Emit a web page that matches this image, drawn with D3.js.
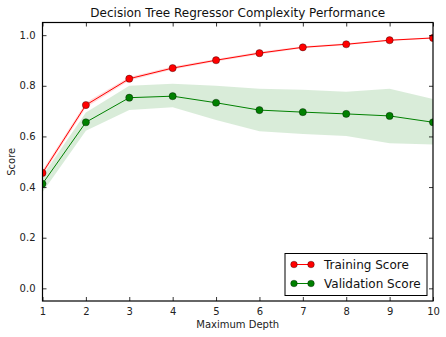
<!DOCTYPE html>
<html>
<head>
<meta charset="utf-8">
<script src="https://cdn.jsdelivr.net/npm/d3@7"></script>
<style>
  html, body { margin: 0; padding: 0; background: #fff; }
  svg { display: block; font-family: "DejaVu Sans", sans-serif; }
</style>
</head>
<body>
<svg id="chart" width="446" height="337"></svg>
<script>
// Decision tree regressor: score versus maximum depth
const depths = [1, 2, 3, 4, 5, 6, 7, 8, 9, 10];
const trainScore = [0.456, 0.724, 0.828, 0.870, 0.901, 0.929, 0.952, 0.964, 0.980, 0.989];
const trainStd = [0.010, 0.010, 0.007, 0.006, 0.005, 0.005, 0.004, 0.004, 0.003, 0.003];
const validScore = [0.413, 0.656, 0.753, 0.759, 0.733, 0.704, 0.696, 0.689, 0.681, 0.656];
const validUpper = [0.445, 0.695, 0.800, 0.808, 0.800, 0.788, 0.784, 0.776, 0.788, 0.748];
const validLower = [0.380, 0.622, 0.704, 0.715, 0.665, 0.620, 0.610, 0.602, 0.573, 0.568];
const xTicks = [1, 2, 3, 4, 5, 6, 7, 8, 9, 10];
const yTicks = [0.0, 0.2, 0.4, 0.6, 0.8, 1.0];
const seriesNames = ["Training Score", "Validation Score"];
const seriesColors = ["#ff0000", "#008000"];

const svg = d3.select("#chart");
const m = { left: 42.5, right: 433, top: 22.5, bottom: 301 };

const x = d3.scaleLinear().domain([1, 10]).range([m.left, m.right]);
const y = d3.scaleLinear().domain([-0.05, 1.05]).range([m.bottom, m.top]);

const plot = svg.append("g");

// clip to the axes box
svg.append("clipPath").attr("id", "clip")
  .append("rect").attr("x", m.left).attr("y", m.top)
  .attr("width", m.right - m.left).attr("height", m.bottom - m.top);

const content = plot.append("g").attr("clip-path", "url(#clip)");

const area = d3.area().x(d => x(d.x)).y0(d => y(d.lo)).y1(d => y(d.hi));
const line = d3.line().x(d => x(d.x)).y(d => y(d.y));

// shaded bands
content.append("path")
  .datum(depths.map((d, i) => ({ x: d, lo: trainScore[i] - trainStd[i], hi: trainScore[i] + trainStd[i] })))
  .attr("d", area).attr("fill", seriesColors[0]).attr("fill-opacity", 0.15);
content.append("path")
  .datum(depths.map((d, i) => ({ x: d, lo: validLower[i], hi: validUpper[i] })))
  .attr("d", area).attr("fill", seriesColors[1]).attr("fill-opacity", 0.15);

// lines and markers
[trainScore, validScore].forEach((vals, s) => {
  const pts = depths.map((d, i) => ({ x: d, y: vals[i] }));
  content.append("path").datum(pts).attr("d", line)
    .attr("fill", "none").attr("stroke", seriesColors[s]).attr("stroke-width", 1);
  content.selectAll(null).data(pts).enter().append("circle")
    .attr("cx", d => x(d.x)).attr("cy", d => y(d.y)).attr("r", 3.6)
    .attr("fill", seriesColors[s]).attr("stroke", "#000").attr("stroke-width", 0.5)
    .attr("stroke-opacity", 0.7);
});

// axes: ticks inside on all four sides
const tickLen = 4;
const axB = d3.axisBottom(x).tickValues(xTicks).tickSizeInner(-tickLen).tickSizeOuter(0).tickPadding(7).tickFormat(d3.format("d"));
const axT = d3.axisTop(x).tickValues(xTicks).tickSizeInner(-tickLen).tickSizeOuter(0).tickFormat("");
const axL = d3.axisLeft(y).tickValues(yTicks).tickSizeInner(-tickLen).tickSizeOuter(0).tickPadding(7).tickFormat(d3.format(".1f"));
const axR = d3.axisRight(y).tickValues(yTicks).tickSizeInner(-tickLen).tickSizeOuter(0).tickFormat("");

function style(g) {
  g.select(".domain").remove();
  g.selectAll(".tick line").attr("stroke", "#000").attr("stroke-width", 0.8);
  g.selectAll(".tick text").attr("fill", "#222").attr("font-size", 10).attr("font-family", "DejaVu Sans");
}
plot.append("g").attr("transform", `translate(0,${m.bottom})`).call(axB).call(style);
plot.append("g").attr("transform", `translate(0,${m.top})`).call(axT).call(style);
plot.append("g").attr("transform", `translate(${m.left},0)`).call(axL).call(style);
plot.append("g").attr("transform", `translate(${m.right},0)`).call(axR).call(style);

// frame
plot.append("rect").attr("x", m.left).attr("y", m.top)
  .attr("width", m.right - m.left).attr("height", m.bottom - m.top)
  .attr("fill", "none").attr("stroke", "#000").attr("stroke-width", 1.2);

// titles
svg.append("text").attr("x", (m.left + m.right) / 2).attr("y", 17)
  .attr("text-anchor", "middle").attr("font-size", 12).attr("fill", "#111")
  .text("Decision Tree Regressor Complexity Performance");
svg.append("text").attr("x", (m.left + m.right) / 2).attr("y", 328)
  .attr("text-anchor", "middle").attr("font-size", 10).attr("fill", "#222")
  .text("Maximum Depth");
svg.append("text").attr("transform", `translate(15,${(m.top + m.bottom) / 2}) rotate(-90)`)
  .attr("text-anchor", "middle").attr("font-size", 10).attr("fill", "#222")
  .text("Score");

// legend
const lg = svg.append("g").attr("transform", "translate(285,253.5)");
lg.append("rect").attr("width", 142).attr("height", 42)
  .attr("fill", "#fff").attr("stroke", "#000").attr("stroke-width", 1);
seriesNames.forEach((name, i) => {
  const row = lg.append("g").attr("transform", `translate(0,${11 + i * 19})`);
  row.append("line").attr("x1", 9).attr("x2", 26).attr("y1", 0).attr("y2", 0)
    .attr("stroke", seriesColors[i]).attr("stroke-width", 1);
  [9, 26].forEach(cx => row.append("circle").attr("cx", cx).attr("cy", 0).attr("r", 3.3)
    .attr("fill", seriesColors[i]).attr("stroke", "#000").attr("stroke-width", 0.5).attr("stroke-opacity", 0.7));
  row.append("text").attr("x", 39).attr("y", 0).attr("dy", "0.35em")
    .attr("font-size", 12).attr("fill", "#111").text(name);
});
</script>
</body>
</html>
